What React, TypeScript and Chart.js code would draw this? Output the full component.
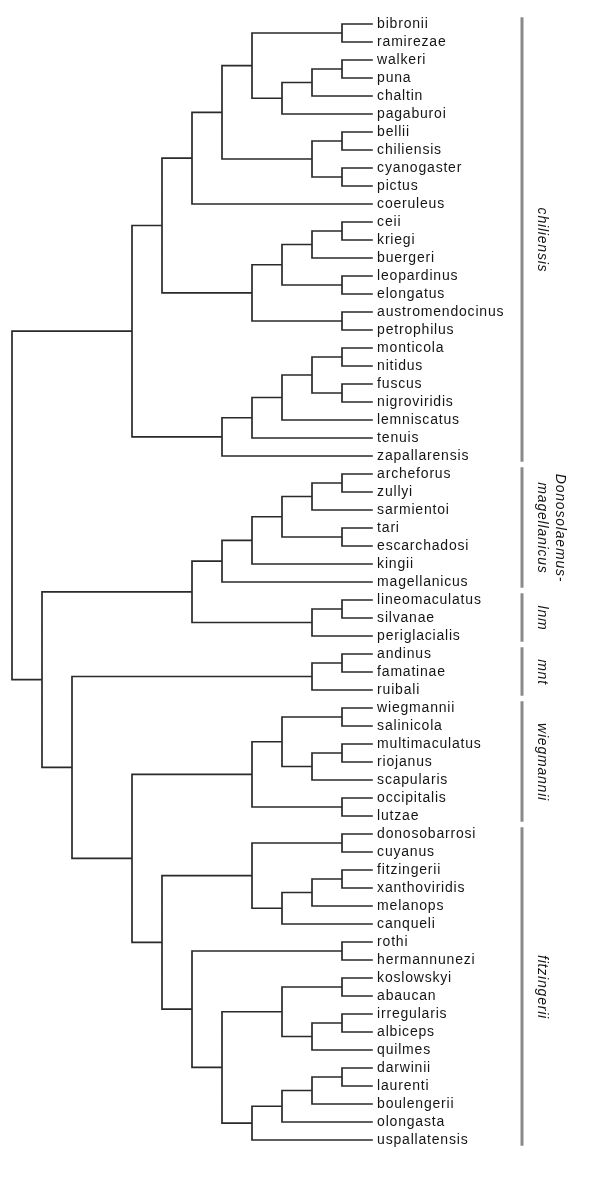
import React, { useEffect, useRef } from "react";
import { Chart, registerables } from "chart.js";

Chart.register(...registerables);

// Tree topology (cladogram, Newick format)
const treeNewick =
  "(" +
  "((((((bibronii,ramirezae),(((walkeri,puna),chaltin),pagaburoi)),((bellii,chiliensis),(cyanogaster,pictus))),coeruleus)," +
  "((((ceii,kriegi),buergeri),(leopardinus,elongatus)),(austromendocinus,petrophilus)))," +
  "(((((monticola,nitidus),(fuscus,nigroviridis)),lemniscatus),tenuis),zapallarensis))," +
  "(((((((archeforus,zullyi),sarmientoi),(tari,escarchadosi)),kingii),magellanicus),((lineomaculatus,silvanae),periglacialis))," +
  "(((andinus,famatinae),ruibali)," +
  "(((((wiegmannii,salinicola),((multimaculatus,riojanus),scapularis)),(occipitalis,lutzae))," +
  "(((donosobarrosi,cuyanus),(((fitzingerii,xanthoviridis),melanops),canqueli))," +
  "((rothi,hermannunezi),(((koslowskyi,abaucan),((irregularis,albiceps),quilmes)),((((darwinii,laurenti),boulengerii),olongasta),uspallatensis)))))))" +
  ")";

// Clade brackets on the right
const groupLabels: string[][] = [
  ["chiliensis"],
  ["Donosolaemus-", "magellanicus"],
  ["lnm"],
  ["mnt"],
  ["wiegmannii"],
  ["fitzingerii"],
];
const groupFirstLeaf = ["bibronii", "archeforus", "lineomaculatus", "andinus", "wiegmannii", "donosobarrosi"];
const groupLastLeaf = ["zapallarensis", "magellanicus", "periglacialis", "ruibali", "lutzae", "uspallatensis"];

type TNode = { name?: string; children: TNode[]; rank: number; y: number };

function parseNewick(s: string): TNode {
  let i = 0;
  const parse = (): TNode => {
    if (s[i] === "(") {
      i++;
      const children: TNode[] = [parse()];
      while (s[i] === ",") {
        i++;
        children.push(parse());
      }
      i++;
      return { children, rank: 0, y: 0 };
    }
    let name = "";
    while (i < s.length && !",()".includes(s[i])) name += s[i++];
    return { name: name.trim(), children: [], rank: 0, y: 0 };
  };
  return parse();
}

function layoutTree(root: TNode) {
  const leaves: string[] = [];
  const walk = (n: TNode) => {
    if (!n.children.length) {
      n.rank = 0;
      n.y = leaves.length;
      leaves.push(n.name || "");
      return;
    }
    n.children.forEach(walk);
    n.rank = Math.max(...n.children.map((c) => c.rank)) + 1;
    n.y = (n.children[0].y + n.children[n.children.length - 1].y) / 2;
  };
  walk(root);
  const segs: { x: number | null; y: number | null }[] = [];
  const collect = (n: TNode) => {
    if (!n.children.length) return;
    const first = n.children[0];
    const last = n.children[n.children.length - 1];
    segs.push({ x: n.rank, y: first.y }, { x: n.rank, y: last.y }, { x: null, y: null });
    n.children.forEach((c) => {
      segs.push({ x: n.rank, y: c.y }, { x: c.rank, y: c.y }, { x: null, y: null });
      collect(c);
    });
  };
  collect(root);
  return { leaves, segs };
}

export default function App() {
  const ref = useRef<HTMLCanvasElement>(null);

  useEffect(() => {
    document.body.style.margin = "0";
    const root = parseNewick(treeNewick);
    const { leaves, segs } = layoutTree(root);
    const idx = (n: string) => leaves.indexOf(n);

    const barData: { x: number | null; y: number | null }[] = [];
    groupFirstLeaf.forEach((f, g) => {
      barData.push({ x: -5, y: idx(f) - 0.38 }, { x: -5, y: idx(groupLastLeaf[g]) + 0.32 }, { x: null, y: null });
    });

    const labelPlugin = {
      id: "treeLabels",
      afterDatasetsDraw(chart: any) {
        const ctx = chart.ctx as CanvasRenderingContext2D;
        const xs = chart.scales.x;
        const ys = chart.scales.y;
        ctx.save();
        ctx.fillStyle = "#151515";
        ctx.font = "14px 'Liberation Sans', Arial, sans-serif";
        try {
          (ctx as any).letterSpacing = "0.8px";
        } catch (e) {}
        ctx.textBaseline = "middle";
        ctx.textAlign = "left";
        const lx = xs.getPixelForValue(-0.17);
        leaves.forEach((n, i) => ctx.fillText(n, lx, ys.getPixelForValue(i)));

        ctx.font = "italic 14px 'Liberation Sans', Arial, sans-serif";
        ctx.textAlign = "center";
        groupLabels.forEach((lines, g) => {
          const yc = ys.getPixelForValue((idx(groupFirstLeaf[g]) + idx(groupLastLeaf[g])) / 2);
          const xc = xs.getPixelForValue(lines.length > 1 ? -5.97 : -5.65);
          ctx.save();
          ctx.translate(xc, yc);
          ctx.rotate(Math.PI / 2);
          lines.forEach((t, k) => {
            const off = (k - (lines.length - 1) / 2) * 18;
            ctx.fillText(t, 0, off);
          });
          ctx.restore();
        });
        ctx.restore();
      },
    };

    const chart = new Chart(ref.current as HTMLCanvasElement, {
      type: "scatter",
      data: {
        datasets: [
          {
            data: segs as any,
            showLine: true,
            spanGaps: false,
            borderColor: "#2a2a2a",
            borderWidth: 1.7,
            borderCapStyle: "square",
            pointRadius: 0,
            pointHoverRadius: 0,
          },
          {
            data: barData as any,
            showLine: true,
            spanGaps: false,
            borderColor: "#8a8a8a",
            borderWidth: 3,
            pointRadius: 0,
            pointHoverRadius: 0,
          },
        ],
      },
      options: {
        animation: false,
        responsive: false,
        devicePixelRatio: 1,
        layout: { padding: 0 },
        plugins: { legend: { display: false }, tooltip: { enabled: false } },
        events: [],
        scales: {
          x: { type: "linear", display: false, reverse: true, min: (372 - 600) / 30, max: 372 / 30 },
          y: { type: "linear", display: false, reverse: true, min: -24 / 18, max: (1182 - 24) / 18 },
        },
      },
      plugins: [labelPlugin],
    });
    return () => chart.destroy();
  }, []);

  return (
    <div style={{ position: "absolute", left: 0, top: 0, width: 600, height: 1182, background: "#fff" }}>
      <canvas ref={ref} width={600} height={1182} style={{ width: 600, height: 1182, display: "block" }} />
    </div>
  );
}
